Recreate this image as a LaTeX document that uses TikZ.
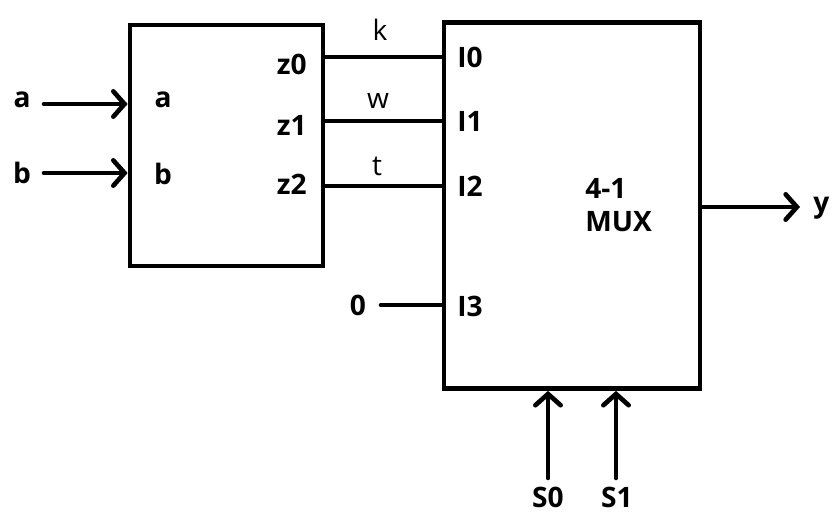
\documentclass[tikz,border=0pt]{standalone}
\usepackage{fontspec}
\setmainfont{Open Sans}
\usetikzlibrary{arrows.meta,positioning}

\begin{document}
\begin{tikzpicture}[x=0.025cm, y=-0.025cm, line width=3.3pt,
    every node/.style={inner sep=0pt, font=\fontsize{20}{24}\selectfont\bfseries},
    blockbox/.style={draw, line width=3.3pt},
    wirelbl/.style={font=\fontsize{20}{24}\selectfont\mdseries},
    sig/.style={-{Straight Barb[length=8pt, width=18pt, line cap=round]}, line cap=round}]
    \useasboundingbox (0,0) rectangle (840,530);

    \node[blockbox, minimum width=4.825cm, minimum height=6.025cm] (enc) at (226.5,145.5) {};
    \node[blockbox, minimum width=6.4cm, minimum height=9.15cm] (mux) at (572,205.5) {};

    \node (la) at (22,100) {a};
    \node (lb) at (22,173) {b};
    \node (pa) at (163,100) {a};
    \node (pb) at (163,174) {b};
    \node[anchor=east] (z0) at (309,64) {z0};
    \node[anchor=east] (z1) at (309,125) {z1};
    \node[anchor=east] (z2) at (309,184) {z2};

    \node[anchor=west] (i0) at (455,57) {I0};
    \node[anchor=west] (i1) at (455,121) {I1};
    \node[anchor=west] (i2) at (455,186) {I2};
    \node[anchor=west] (i3) at (455,306) {I3};
    \node[anchor=west, align=left] (muxlbl) at (583,205) {4-1\\MUX};

    \node (zero) at (358,305) {0};
    \node[anchor=west] (ly) at (811,208) {y};
    \node (ls0) at (548,497) {S0};
    \node (ls1) at (617,497) {S1};

    \coordinate (ain) at (44,104);
    \coordinate (bin) at (44,173);
    \coordinate (yout) at (800,207);
    \coordinate (s0in) at (548,478);
    \coordinate (s1in) at (616,478);

    \draw[sig] (ain) -- (ain -| enc.west);
    \draw[sig] (bin) -- (bin -| enc.west);

    \draw (i0.west -| enc.east) -- (i0.west -| mux.west);
    \draw (i1.west -| enc.east) -- (i1.west -| mux.west);
    \draw (i2.west -| enc.east) -- (i2.west -| mux.west);
    \node[wirelbl] (wk) at (380,30) {k};
    \node[wirelbl] (ww) at (378,101) {w};
    \node[wirelbl] (wt) at (377,166) {t};

    \draw[line cap=round, shorten <=9pt] (zero) -- (zero -| mux.west);

    \draw[sig] (yout -| mux.east) -- (yout);
    \draw[sig] (s0in) -- (s0in |- mux.south);
    \draw[sig] (s1in) -- (s1in |- mux.south);
  \end{tikzpicture}
\end{document}
